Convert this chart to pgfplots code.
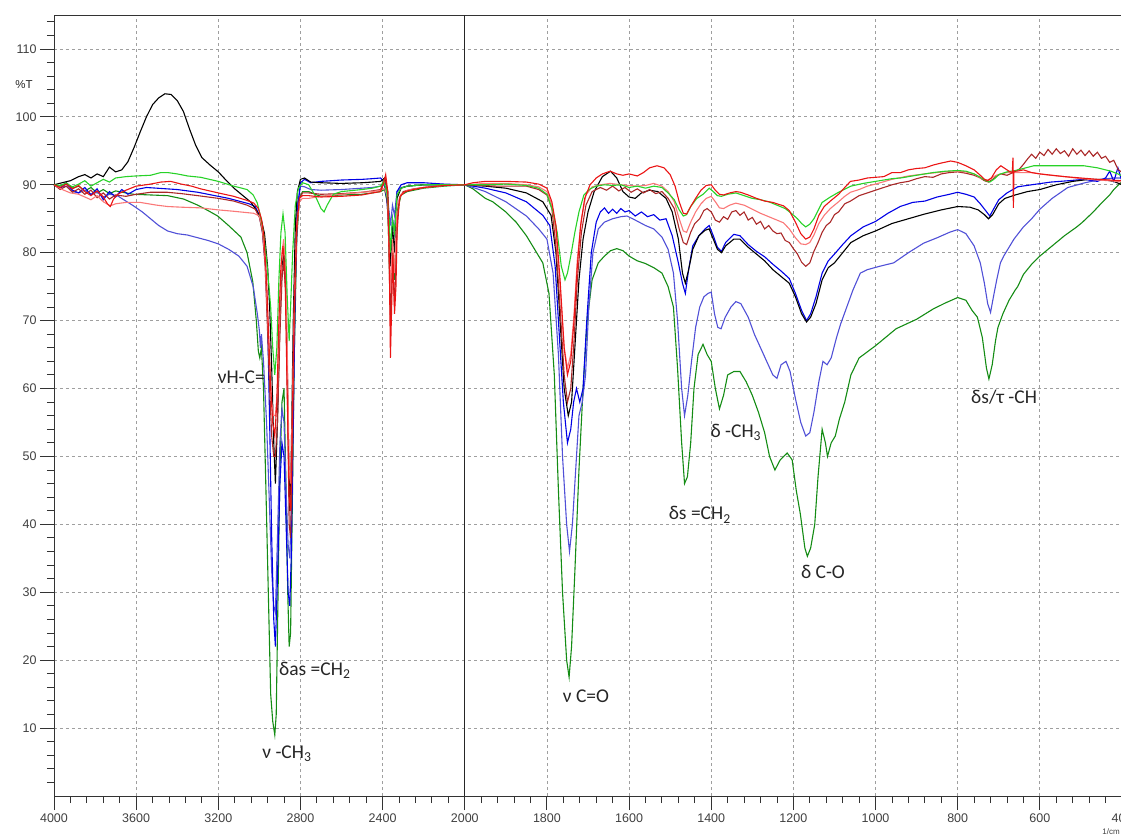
\documentclass[border=0pt]{standalone}
\usepackage{pgfplots}
\pgfplotsset{compat=1.18}
\usepackage{pgfplotstable}
\usepackage{fontspec}
\setmainfont{Liberation Sans}
\newfontfamily\annfont{Carlito}

\definecolor{cred}{RGB}{235,20,20}
\definecolor{csalmon}{RGB}{250,120,120}
\definecolor{cdred}{RGB}{170,40,40}
\definecolor{cgreen}{RGB}{40,210,40}
\definecolor{cdgreen}{RGB}{20,140,20}
\definecolor{cblue}{RGB}{0,0,230}
\definecolor{clblue}{RGB}{80,80,215}

\pgfplotstableread{
wn T
4000 90
3960 90.3
3920 90.6
3880 91.2
3850 91.5
3820 91.0
3790 91.6
3760 91.2
3730 92.6
3700 91.9
3670 92.2
3640 93.4
3610 95.5
3580 97.8
3550 100.0
3520 101.8
3490 102.8
3460 103.4
3430 103.3
3400 102.4
3370 100.8
3340 98.2
3310 95.8
3280 94.0
3240 92.9
3200 91.9
3160 90.6
3120 89.4
3080 88.4
3040 87.4
3010 86.0
2990 84.8
2975 82.8
2960 78
2950 72
2940 63
2930 52
2922 46
2912 55
2900 70
2890 78
2880 80
2870 74
2860 55
2852 42
2845 50
2835 70
2825 84
2815 89
2800 90.8
2780 91
2750 90.4
2700 90.3
2600 90.2
2500 90.3
2450 90.4
2410 90.5
2390 91
2375 89
2362 78
2352 84
2342 80
2330 88
2310 89.5
2280 89.8
2200 90
2100 90
2000 90
1950 89.8
1900 89.5
1850 88.8
1810 87.5
1790 85.5
1778 80
1768 70
1758 60
1748 56
1740 58
1732 66
1722 76
1712 82
1700 86
1685 89
1665 91.2
1645 92
1630 91
1615 89
1600 88.2
1585 88
1570 88.8
1550 89.2
1530 89
1510 88
1495 86
1480 82
1470 77
1463 75.5
1455 77.5
1445 80.5
1430 82.5
1415 83.3
1405 83.5
1395 82
1385 80.5
1375 80
1365 81
1345 82
1330 82
1310 80.8
1290 79.8
1270 78.8
1250 77.5
1230 76.5
1210 75.5
1195 73.5
1180 71
1168 69.8
1158 70.5
1145 72.5
1130 76
1115 77.8
1100 78.5
1080 80
1060 81.5
1030 82.5
1000 83.2
960 84.3
920 85
880 85.7
840 86.3
800 86.8
770 86.7
750 86.3
735 85.6
725 85
715 85.6
700 87.2
685 88
660 88.5
630 89
600 89.3
560 90
520 90.5
480 90.8
450 90.8
420 90.5
400 90
}\tblack

\pgfplotstableread{
wn T
4000 90
3970 89.5
3940 90.2
3910 89.2
3880 88.8
3850 89.6
3820 88.5
3790 89.4
3760 87.8
3730 89
3700 88.2
3670 89.3
3640 88.6
3600 89.3
3550 89.6
3500 89.5
3450 89.4
3400 89.3
3350 89.1
3300 88.9
3250 88.6
3200 88.3
3150 88
3100 87.6
3050 87.2
3020 86.8
3000 85.5
2985 83
2970 78
2960 70
2950 55
2940 38
2930 26
2922 22
2912 32
2900 46
2890 52
2880 50
2870 40
2860 30
2852 28
2845 35
2835 55
2825 75
2815 86
2800 90.3
2780 90.8
2750 90.3
2700 90.5
2600 90.7
2500 90.8
2450 90.9
2410 91
2395 90.5
2380 88
2370 84
2362 79
2352 85
2342 83
2330 89
2310 90
2280 90.3
2200 90.3
2100 90.1
2000 90
1950 89.5
1900 88.8
1850 87.5
1810 85.5
1793 84
1780 78
1770 68
1760 58
1750 52
1742 54
1735 58
1728 60
1720 58
1712 60
1703 70
1692 80
1680 84.5
1670 86
1660 86.6
1650 85.8
1640 86.4
1630 85.8
1620 86.5
1610 86
1600 86.2
1585 85.4
1570 86
1555 85.3
1540 85.6
1525 84.8
1510 85
1495 82.5
1480 78.5
1470 75.5
1463 74
1455 77.5
1445 81
1430 82.5
1415 83.5
1405 84
1395 82.5
1385 80.8
1375 80.2
1365 81.5
1345 82.7
1330 82.5
1310 81.2
1290 80.2
1270 79.4
1250 78.3
1230 77.3
1210 76.2
1195 74
1180 71.5
1168 70
1158 71
1145 73.5
1130 77
1115 78.8
1100 79.8
1080 81.2
1060 82.5
1030 83.8
1000 84.6
970 85.8
940 86.8
910 87.4
880 87.6
850 88.2
820 88.6
800 88.9
780 88.6
760 88.2
745 87.2
732 86.2
722 85.4
712 86.5
700 87.8
680 88.8
654 89.7
620 90
573 90.4
530 90.6
493 90.8
460 90.5
440 91
430 92
420 90.5
410 92.5
400 90.5
}\tblue

\pgfplotstableread{
wn T
4000 90
3970 89.6
3940 89.8
3910 89
3880 88.8
3850 89.2
3820 88.6
3790 88.9
3760 88.2
3730 88.6
3692 88.4
3650 87.6
3613 86.9
3570 86
3530 85
3490 84
3447 83.2
3400 82.8
3350 82.6
3300 82.2
3250 81.8
3200 81.3
3150 80.5
3100 79.5
3060 78
3030 75
3010 71
3000 68.5
2995 66
2990 68
2980 64
2965 55
2950 42
2940 33
2930 28
2922 27
2912 38
2900 52
2890 57
2880 55
2870 45
2860 37
2852 35
2845 42
2835 60
2825 78
2815 87
2800 89.8
2780 89.7
2750 89.3
2700 89.2
2600 89.3
2500 89.5
2450 89.6
2410 89.8
2390 90
2375 88
2362 84
2352 87
2342 85.5
2330 89
2310 89.6
2280 89.8
2200 90
2100 90
2000 90
1950 89
1900 87.5
1850 85.4
1820 83.5
1800 82
1785 77
1772 65
1762 50
1752 40
1745 36
1738 40
1730 48
1722 56
1714 58
1706 62
1698 72
1688 80
1675 83.5
1660 84.5
1640 85
1620 85.3
1605 85.4
1585 84.8
1560 84
1540 83.5
1520 82.3
1505 80.5
1492 77
1482 70
1472 60
1465 56
1457 59
1448 64
1438 69
1428 72
1418 73.5
1408 74
1400 74.2
1392 71
1384 69
1376 68.8
1366 70.5
1352 72
1340 72.8
1328 72.5
1310 70.5
1295 68
1280 66
1265 64
1250 62
1240 61.5
1230 63.5
1218 64
1208 62.5
1195 58.5
1182 55
1170 53
1160 53.5
1150 56.5
1138 61
1128 64
1118 63.5
1108 64.5
1095 67.5
1085 69.5
1070 72
1055 74.5
1037 77
1020 77.5
990 78
956 78.5
920 80
883 81.4
850 82.2
820 83
800 83.4
780 82.8
760 81
745 78.5
735 75.5
727 72.5
720 71.2
713 73.5
705 76
696 78.5
688 79.5
675 80.8
663 82
640 83.8
620 85
600 86.4
570 88
532 89.6
490 90.3
451 90.8
420 91
400 91
}\tlblue

\pgfplotstableread{
wn T
4000 90
3970 89.8
3940 90.3
3910 89.5
3880 89.8
3850 89.1
3820 89.6
3790 88.8
3760 89.3
3730 88.7
3700 89.1
3650 88.8
3613 88.6
3530 88.5
3447 88.4
3369 87.9
3300 87
3250 86.2
3203 85.4
3150 84
3090 82.3
3060 80
3032 75.7
3015 70
3005 65.5
2998 64.5
2990 66
2980 60
2968 45
2955 28
2945 15
2935 11
2925 9
2918 12
2910 28
2900 48
2890 58
2880 60
2870 45
2862 30
2855 22
2848 24
2840 42
2830 65
2818 82
2805 88
2790 89
2760 89
2720 88.5
2700 88.3
2600 88.5
2500 88.6
2450 88.8
2410 89
2390 89.3
2375 87
2362 72
2352 80
2342 76
2330 86
2310 88.5
2280 89
2200 89.5
2100 89.8
2000 90
1980 89.4
1950 88
1932 87.5
1900 86
1875 84.5
1850 82.5
1830 80.5
1810 78.5
1795 74
1782 62
1772 45
1762 30
1752 20
1746 17.5
1740 22
1732 33
1722 48
1712 60
1702 70
1690 76
1675 78.5
1660 79.5
1645 80.3
1630 80.6
1615 80.3
1600 79.5
1580 78.8
1560 78.4
1540 77.8
1520 77
1505 75
1492 72
1482 63
1472 52
1465 46
1458 47
1450 52
1442 60
1432 65
1420 66.5
1410 65
1400 64
1390 60
1380 57
1370 59
1360 62
1345 62.5
1330 62.5
1315 61
1300 59
1285 56.5
1270 53.5
1258 50
1245 48
1232 49.5
1215 50.5
1203 49.5
1193 45
1183 41.5
1172 36.5
1166 35.3
1158 36.5
1148 40
1140 47
1130 54
1122 52
1117 50
1108 52
1098 53
1088 55.5
1075 58
1060 62
1040 64.5
1000 66.3
950 68.8
900 70.2
860 71.7
830 72.6
800 73.4
780 73
765 71.5
752 70.5
740 67.5
730 63
724 61.4
716 63.5
708 67
702 69
690 71
675 73
660 74.5
654 75
640 76.8
620 78.3
600 79.5
570 81
540 82.5
510 83.8
496 84.5
470 86
450 87.3
430 88.5
420 89.3
400 90.5
}\tdgreen

\pgfplotstableread{
wn T
4000 90
3970 89.9
3940 90.2
3910 89.7
3880 90.1
3850 90.6
3820 89.8
3790 90.3
3760 90.8
3730 90.4
3700 91
3650 91.2
3600 91.3
3530 91.4
3480 91.8
3447 91.8
3400 91.6
3350 91.3
3286 91.1
3200 90.5
3125 89.8
3060 89.3
3030 88.5
3010 87.3
2995 85.4
2980 83
2965 79
2955 75.6
2945 72
2935 66
2925 62
2915 66
2905 76
2895 83
2885 85.7
2875 83
2865 74
2855 67
2848 72
2838 80
2825 87
2810 89.5
2790 90.3
2760 90
2730 88.5
2700 86.5
2685 86
2670 87
2640 88.6
2600 89
2500 89.3
2450 89.5
2410 89.8
2395 90.5
2380 89
2368 85
2362 80
2352 85
2342 83
2330 88.5
2310 89.5
2280 89.8
2200 90
2100 90
2000 90
1950 90
1900 90.1
1850 89.9
1820 89.5
1800 88.6
1785 86
1775 83
1765 78
1756 76
1750 77
1742 79.5
1732 83
1722 86
1710 88.5
1695 89.4
1680 89.8
1660 90
1640 89.9
1620 90
1600 89.6
1580 89.8
1560 89.5
1540 89.8
1520 89.6
1505 88.8
1490 87.8
1478 86.3
1468 85.4
1460 85.6
1450 86.8
1435 88
1420 88.6
1405 89.5
1395 89
1385 88.4
1375 88.3
1360 88.6
1340 88.8
1320 88.4
1300 88
1280 87.8
1260 87.5
1240 87
1220 86.5
1205 85.8
1190 85
1180 84.3
1170 83.8
1160 84.2
1150 85
1140 86.2
1130 87.4
1110 88.2
1090 88.9
1060 89.8
1030 90.2
1000 90.5
960 90.9
939 91
900 91.4
860 91.8
830 92
800 92.1
780 92
760 91.6
745 91.1
732 90.6
722 90.4
712 90.8
700 91.5
680 91.9
660 92.1
640 92.4
615 92.8
580 92.8
540 92.8
493 92.8
460 92.5
427 92
410 91.6
400 91.3
}\tgreen

\pgfplotstableread{
wn T
4000 90
3970 89.6
3940 90.1
3910 89.4
3880 89.9
3850 89
3820 88.4
3790 89.1
3760 88.2
3740 87.2
3726 86.8
3710 87.9
3690 88.6
3650 89.2
3600 89.8
3530 90.1
3480 90.4
3432 90.5
3380 90.1
3330 89.8
3286 89.4
3200 88.8
3125 88.3
3060 87.7
3027 87.3
3005 86.5
2990 85
2978 82.5
2965 76
2955 68
2945 60
2935 55
2925 53
2915 58
2905 70
2895 78
2885 81
2875 77
2865 60
2855 44
2848 42
2840 55
2830 72
2818 84
2805 88
2790 88.4
2760 88.4
2700 88.2
2600 88.3
2500 88.5
2450 88.8
2410 89
2395 90.2
2385 91.5
2375 89
2368 80
2362 64.5
2356 72
2350 80
2342 71
2335 75
2328 85
2315 88.3
2290 89
2250 89.3
2200 89.6
2100 89.9
2000 90
1980 90.3
1950 90.5
1900 90.5
1850 90.4
1820 90.1
1800 89.5
1788 87.5
1778 84
1768 76
1758 66
1750 62
1742 64
1734 70
1726 78
1718 84
1708 88
1695 90
1680 91
1665 91.6
1646 92
1630 91.6
1615 91.4
1600 91.6
1580 91.3
1565 91.8
1550 92.5
1532 92.8
1515 92.5
1500 91.5
1488 89.8
1478 87.5
1468 85.8
1460 85.7
1450 86.8
1438 88
1425 89.2
1412 89.9
1400 90
1390 89.2
1380 88.6
1370 88.5
1355 88.8
1340 89
1329 88.9
1310 88.5
1290 88
1270 87.6
1250 87.4
1235 87.1
1224 86.9
1210 86.2
1195 84.5
1182 82.8
1170 82
1160 82.3
1150 83.5
1138 85.5
1125 86.8
1110 87.6
1090 88.6
1075 89.6
1061 90.5
1040 90.7
1020 91
1000 91.1
980 91.2
960 91.8
939 91.8
920 92.2
900 92.4
880 92.5
860 92.9
840 93.2
817 93.5
800 93.3
780 92.8
760 92.2
745 91.4
735 90.8
727 90.6
718 91
706 92.2
695 92.8
685 92.4
675 92
667 91.8
665.5 94
664.5 86.6
663 92
655 92
640 92.2
620 91.8
600 91.6
570 91.4
540 91.2
500 91
460 90.8
430 90.7
400 90.6
}\tred

\pgfplotstableread{
wn T
4000 90
3960 89.3
3920 88.8
3880 88.6
3850 88.2
3820 87.8
3790 88.4
3760 87.5
3726 86.9
3700 87.2
3650 87.4
3579 87.4
3500 87
3447 86.8
3380 86.7
3286 86.6
3200 86.3
3125 86.1
3060 85.9
3027 85.8
3000 85.4
2985 83.5
2972 79
2962 72
2950 64
2940 58
2930 56
2922 56
2912 60
2900 72
2890 80
2882 82
2872 78
2862 62
2855 48
2848 46
2840 57
2830 73
2818 84
2805 87.5
2790 88
2760 88
2700 88.3
2600 88.6
2500 88.9
2450 89
2410 89.2
2390 89.5
2375 88
2362 74
2352 82
2342 77
2330 87
2310 88.6
2280 89.2
2200 89.6
2100 89.9
2000 90
1950 90.2
1900 90.2
1850 90
1820 89.7
1800 89
1788 87
1778 83
1768 75
1758 66
1750 63
1742 65
1734 71
1726 79
1716 85
1705 88.5
1690 89.7
1670 90
1646 90.2
1620 90
1600 89.9
1580 89.8
1560 89.9
1540 90.2
1520 89.8
1505 89
1490 87.5
1478 85
1468 83.2
1460 83
1450 84.5
1438 86
1425 87.2
1412 88
1400 88.3
1390 87.5
1380 86.6
1370 86.5
1355 87
1340 87.3
1320 87
1300 86.4
1280 85.8
1260 85.3
1240 84.8
1224 84.4
1210 83.5
1195 82.2
1182 81.3
1170 81.2
1160 81.5
1150 82.6
1138 84.3
1125 85.5
1110 86.5
1090 87.5
1075 88.3
1061 88.9
1040 89.3
1020 89.8
1000 90.1
960 90.8
920 91.3
880 91.6
850 91.8
817 92
800 92
780 91.9
760 91.6
745 91
735 90.8
727 90.7
718 91
706 91.4
695 91.6
680 91.8
660 91.8
640 91.8
620 91.8
600 91.6
573 91.4
540 91.2
500 90.9
460 90.7
430 90.6
400 90.4
}\tsalmon

\pgfplotstableread{
wn T
4000 90
3970 89.3
3940 89.8
3910 88.9
3880 89.4
3850 88.6
3820 89.2
3790 88.1
3760 88.8
3730 87.9
3700 88.5
3650 88.3
3600 88.6
3530 88.9
3450 88.9
3380 88.7
3300 88.4
3200 88
3125 87.6
3060 87
3020 86.4
3000 85.2
2985 83
2972 78
2962 70
2950 60
2940 53
2930 50
2922 50
2912 55
2900 68
2890 76
2882 79
2872 74
2862 56
2855 40
2848 38
2840 50
2830 70
2818 83
2805 88
2790 88.8
2760 88.8
2700 88.6
2600 88.7
2500 88.9
2450 89.1
2410 89.3
2392 90.8
2382 90.2
2372 84
2362 70
2352 79
2342 72
2332 82
2318 88
2300 89
2250 89.4
2200 89.6
2100 89.9
2000 90
1960 89.9
1920 89.8
1880 89.8
1850 89.8
1820 89.3
1800 88.5
1788 86.5
1778 81
1768 72
1758 62
1750 58
1742 60
1734 67
1726 76
1716 83
1705 87
1690 89
1670 89.6
1655 89.2
1640 89.8
1625 89.1
1610 89.6
1595 88.9
1580 89.4
1565 88.8
1550 89.3
1535 88.7
1520 89
1505 88
1490 86.5
1478 83.5
1468 81.5
1460 81.2
1450 83
1440 84.3
1428 85
1418 86.2
1410 86.5
1400 86
1390 84.8
1380 84.5
1370 85.3
1360 84.9
1350 86
1340 86.2
1330 85.5
1320 86
1310 84.8
1300 85.2
1290 84.2
1280 84.6
1270 83.5
1260 84
1250 83.2
1240 82.8
1230 82.9
1220 81.8
1210 81.5
1200 80.6
1190 79.8
1180 78.6
1170 78
1160 78.5
1150 80.2
1140 81.5
1130 83
1120 84
1110 84.5
1100 85.6
1090 86
1075 87.2
1061 87.6
1040 88.4
1020 88.8
1000 89.2
980 89.6
960 90
940 90.3
920 90.5
900 90.9
880 91.2
860 91.1
840 91.6
820 91.8
800 91.9
780 91.7
760 91.4
745 91
735 90.6
725 90.4
715 90.8
705 91.3
695 91.6
680 91.4
665 91.8
650 92.3
640 93
630 93.8
620 94.5
610 93.9
600 94.8
590 94.3
580 95.2
570 94.5
560 95.3
550 94.6
540 95
530 94.2
520 95.3
510 94.5
500 95.1
490 94.3
480 95
470 94.2
460 94.8
450 93.9
440 94.2
430 93.3
420 93.6
410 92.3
400 91.8
}\tdred

% wavenumber -> plotting position: 4000..2000 at half the scale of 2000..400
\pgfplotsset{
  table/ir/.style={x expr={\thisrow{wn}>=2000 ? (4000-\thisrow{wn})/2 : 3000-\thisrow{wn}}, y=T},
}
\tikzset{annot/.style={font=\annfont\fontsize{19.5}{20}\selectfont, text=black!85, inner sep=0pt}}

\begin{document}
\begin{tikzpicture}
\path[use as bounding box] (-54pt,-40pt) rectangle (1067pt,796pt);
\begin{axis}[
  at={(0pt,0pt)}, anchor=south west,
  scale only axis, width=1068pt, height=781pt,
  xmin=0, xmax=2600, ymin=0, ymax=115,
  clip=false,
  axis line style={black!80, line width=0.9pt},
  tick pos=left, tick align=outside,
  major tick length=14pt, minor tick length=7pt,
  tick style={black!80, line width=0.9pt},
  xtick={0,200,...,2600},
  xticklabels={4000,3600,3200,2800,2400,2000,1800,1600,1400,1200,1000,800,600,400},
  minor xtick={40,80,...,2560},
  ytick={10,20,...,110},
  yticklabels={10,20,30,40,50,60,70,80,90,100,110},
  minor ytick={2,4,...,114},
  ticklabel style={font=\fontsize{12.5}{13}\selectfont, text=black!75},
  grid=major,
  major grid style={gray!75, line width=0.8pt, dash pattern=on 3pt off 3pt},
  extra x ticks={1000}, extra x tick labels={},
  extra x tick style={major grid style={solid, black!85, line width=0.9pt}},
  every axis plot/.append style={line width=1.1pt},
]
\addplot[cdgreen] table[ir] {\tdgreen};
\addplot[clblue] table[ir] {\tlblue};
\addplot[cblue] table[ir] {\tblue};
\addplot[black] table[ir] {\tblack};
\addplot[cdred] table[ir] {\tdred};
\addplot[csalmon] table[ir] {\tsalmon};
\addplot[cgreen] table[ir] {\tgreen};
\addplot[cred] table[ir] {\tred};

\node[annot, anchor=east] at (axis cs:513.6,61.7) {νH-C=};
\node[annot, anchor=west] at (axis cs:547.7,18.5) {δas =CH\textsubscript{2}};
\node[annot] at (axis cs:567,6.2) {ν -CH\textsubscript{3}};
\node[annot] at (axis cs:1295,14.7) {ν C=O};
\node[annot] at (axis cs:1572,41.4) {δs =CH\textsubscript{2}};
\node[annot] at (axis cs:1660,53.5) {δ -CH\textsubscript{3}};
\node[annot] at (axis cs:1872,33) {δ C-O};
\node[annot] at (axis cs:2313,58.8) {δs/τ -CH};
\node[font=\fontsize{11.5}{12}\selectfont, text=black!85] at (axis cs:-73,104.8) {\%T};
\node[font=\fontsize{8}{9}\selectfont, text=black!75, anchor=south east, inner sep=1pt] at (1067pt,-40pt) {1/cm};
\end{axis}
\end{tikzpicture}
\end{document}
